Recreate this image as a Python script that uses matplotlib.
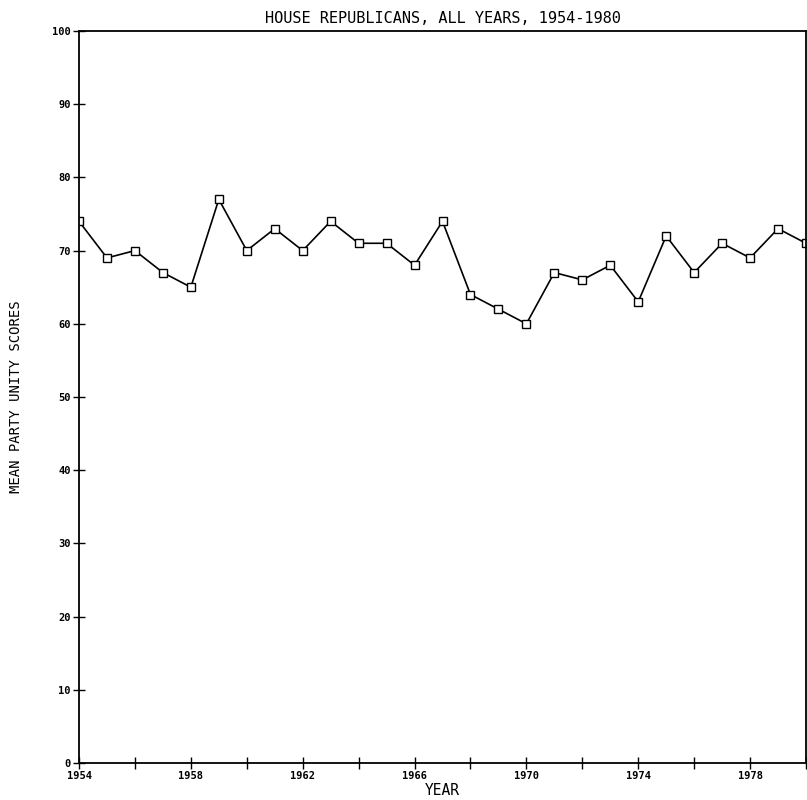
import matplotlib
matplotlib.use("Agg")
import matplotlib.pyplot as plt
import numpy as np

# Mean party unity scores, House Republicans
years = np.arange(1954, 1981)
unity_scores = [74, 69, 70, 67, 65, 77, 70, 73, 70, 74, 71, 71, 68, 74,
                64, 62, 60, 67, 66, 68, 63, 72, 67, 71, 69, 73, 71]

y_ticks = list(range(0, 101, 10))
x_major_ticks = list(range(1954, 1981, 2))
x_label_years = [1954, 1958, 1962, 1966, 1970, 1974, 1978]

mono = "DejaVu Sans Mono"

fig = plt.figure(figsize=(8.07, 8.0), dpi=100)
ax = fig.add_axes([79 / 807, 37 / 800, 727 / 807, 732 / 800])

ax.plot(years, unity_scores, color="black", linewidth=1.2,
        marker="s", markersize=6.3, markerfacecolor="white",
        markeredgecolor="black", markeredgewidth=1.0)

ax.set_xlim(1954, 1980)
ax.set_ylim(0, 100)

ax.set_yticks(y_ticks)
ax.set_yticklabels([str(t) for t in y_ticks], fontsize=7.5,
                   fontweight="bold", family=mono)
ax.set_xticks(x_major_ticks)
ax.set_xticklabels([str(y) if y in x_label_years else "" for y in x_major_ticks],
                   fontsize=7.5, fontweight="bold", family=mono)
ax.tick_params(axis="both", direction="inout", length=8, width=1.0, pad=2)

for spine in ax.spines.values():
    spine.set_linewidth(1.3)

ax.set_title("HOUSE REPUBLICANS, ALL YEARS, 1954-1980", family=mono,
             fontsize=11, pad=6)
ax.set_xlabel("YEAR", family=mono, fontsize=10.5, labelpad=1)
ax.set_ylabel("MEAN PARTY UNITY SCORES", family=mono, fontsize=10, labelpad=21)

fig.savefig("out.png", dpi=100)
